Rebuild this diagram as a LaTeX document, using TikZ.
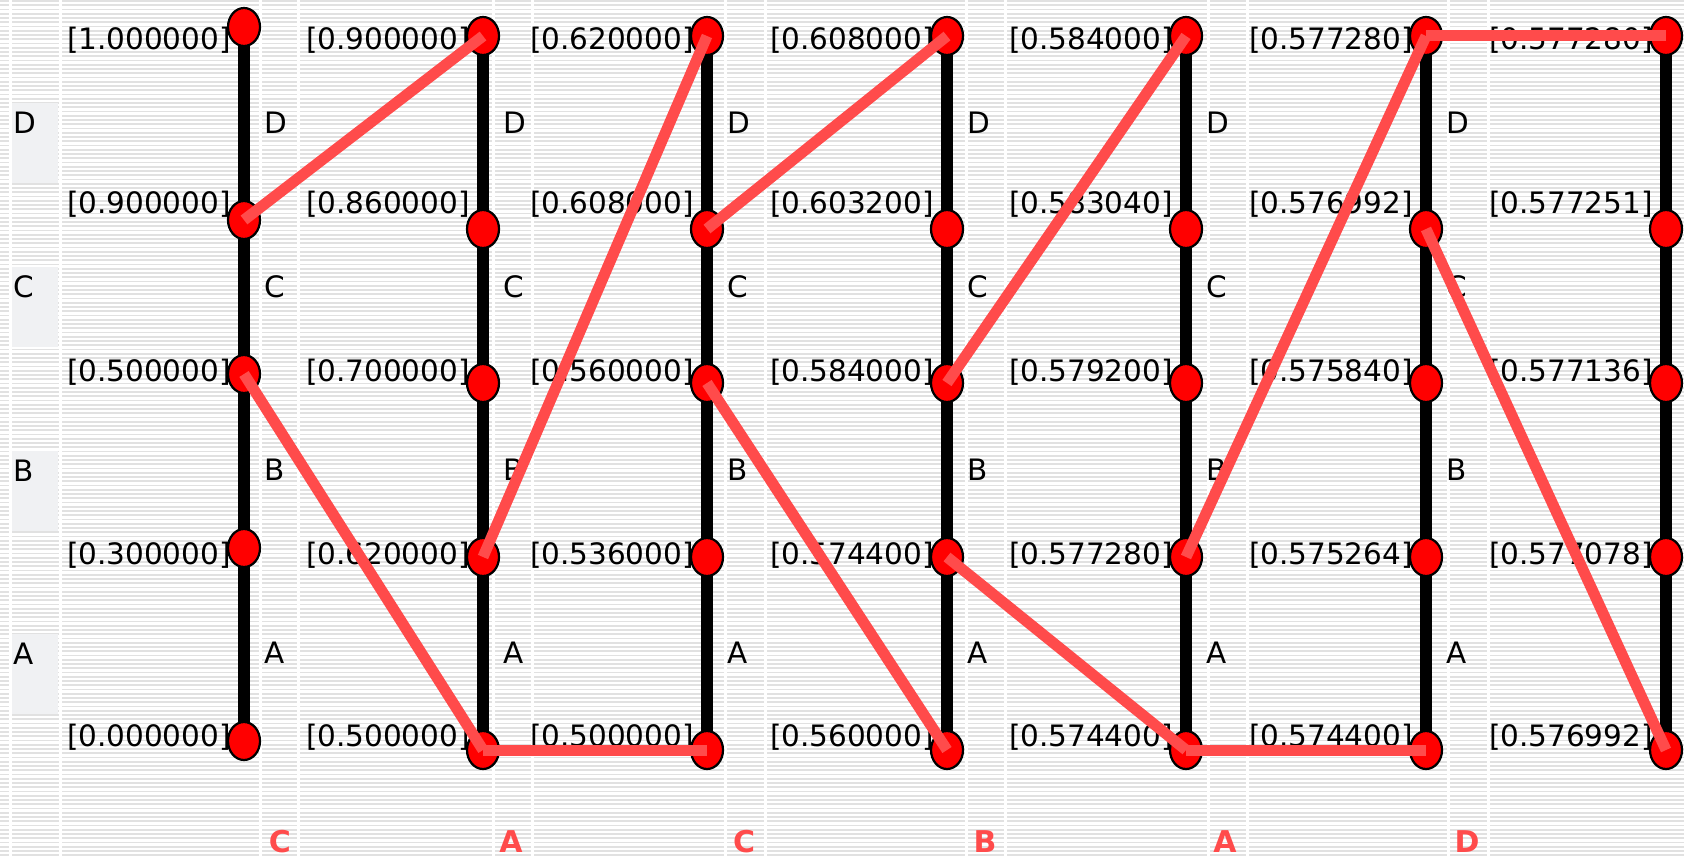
\documentclass[tikz,border=0pt]{standalone}
\usepackage{fontspec}
\setmainfont{DejaVu Sans}
\usetikzlibrary{shapes.geometric}
\usepackage{xcolor}
\definecolor{zoomred}{HTML}{FF4B4B}
\definecolor{stripe}{HTML}{E1E1E1}
\definecolor{legendbg}{HTML}{F0F1F3}
\pgfdeclarelayer{paper}
\pgfdeclarelayer{axes}
\pgfsetlayers{paper,axes,main}

\begin{document}
\begin{tikzpicture}[
    x=1pt, y=-1pt,
    every node/.style={font=\fontsize{29.5}{34}\selectfont, inner sep=0pt},
    dot/.style={ellipse, draw=black, line width=2.2pt, fill=red,
                minimum width=32pt, minimum height=38pt},
    axis/.style={line width=12pt, black},
    zoom/.style={line width=11pt, zoomred},
    val/.style={anchor=east},
    sym/.style={anchor=west},
    pick/.style={text=zoomred, font=\fontsize{30}{34}\selectfont\bfseries},
    gap/.style={white, line width=3pt}
]
    \useasboundingbox (0,0) rectangle (1684,859);

    % striped paper with column gaps
    \begin{pgfonlayer}{paper}
        \fill[white] (0,0) rectangle (1684,859);
        \foreach \i in {0,...,202}
            \draw[stripe, line width=1.6pt] (0,\i*4.25+1) -- (1684,\i*4.25+1);
        \foreach \x in {10,60,260,298,493,532,725,765,966,1005,1208,1247,1448,1488}
            \draw[gap] (\x,0) -- (\x,859);
        \foreach \s/\y in {D/103,C/267,B/451,A/634}
            \fill[legendbg] (12,\y) rectangle (58,\y+80);
    \end{pgfonlayer}

    % legend
    \foreach \s/\y in {D/123,C/287,B/471,A/654}
        \node[sym] (leg\s) at (13,\y) {\s};

    % intervals
    \foreach \c/\x/\dy/\va/\vb/\vc/\vd/\ve in {
        1/244/0/1.000000/0.900000/0.500000/0.300000/0.000000,
        2/483/9/0.900000/0.860000/0.700000/0.620000/0.500000,
        3/707/9/0.620000/0.608000/0.560000/0.536000/0.500000,
        4/947/9/0.608000/0.603200/0.584000/0.574400/0.560000,
        5/1186/9/0.584000/0.583040/0.579200/0.577280/0.574400,
        6/1426/9/0.577280/0.576992/0.575840/0.575264/0.574400,
        7/1666/9/0.577280/0.577251/0.577136/0.577078/0.576992}{
        \foreach \k/\v/\py/\ly in {1/\va/27/40, 2/\vb/220/204, 3/\vc/374/372,
                                   4/\vd/548/555, 5/\ve/741/737}{
            \node[dot] (d\c-\k) at (\x,\py+\dy) {};
            \node[val] (v\c-\k) at (\x-13,\ly) {[\v]};
        }
        \begin{pgfonlayer}{axes}
            \draw[axis] (d\c-1.center) -- (d\c-5.center);
        \end{pgfonlayer}
    }

    % symbol names beside each interval
    \foreach \c/\x in {1/244,2/483,3/707,4/947,5/1186,6/1426}
        \foreach \s/\y in {D/123,C/287,B/470,A/653}
            \node[sym] (s\c\s) at (\x+20,\y) {\s};

    % zoom into the chosen sub-interval
    \foreach \a/\b in {1-2/2-1, 1-3/2-5, 2-4/3-1, 2-5/3-5, 3-2/4-1, 3-3/4-5,
                       4-3/5-1, 4-4/5-5, 5-4/6-1, 5-5/6-5, 6-1/7-1, 6-2/7-5}
        \draw[zoom] (d\a.center) -- (d\b.center);

    % coded symbols
    \foreach \c/\x/\s in {1/280/C, 2/511/A, 3/744/C, 4/985/B, 5/1225/A, 6/1467/D}
        \node[pick] (pick\c) at (\x,842) {\s};
\end{tikzpicture}
\end{document}
